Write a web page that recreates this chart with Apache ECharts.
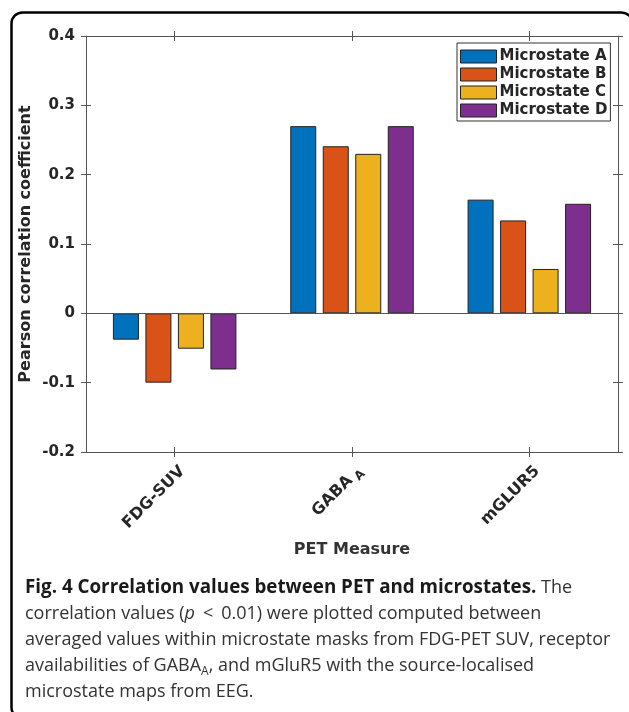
<!DOCTYPE html>
<html>
<head>
<meta charset="utf-8">
<script src="https://cdn.jsdelivr.net/npm/echarts@6/dist/echarts.min.js"></script>
<style>
html,body{margin:0;padding:0;background:#fff;}
#chart{width:629px;height:712px;}
</style>
</head>
<body>
<div id="chart"></div>
<script>
// ---- data ----
const categories = ['FDG-SUV', 'GABA_A', 'mGLUR5'];
const seriesNames = ['Microstate A', 'Microstate B', 'Microstate C', 'Microstate D'];
const microstateA = [-0.038, 0.270, 0.164];
const microstateB = [-0.100, 0.241, 0.134];
const microstateC = [-0.051, 0.230, 0.064];
const microstateD = [-0.081, 0.270, 0.158];
const yTicks = [-0.2, -0.1, 0, 0.1, 0.2, 0.3, 0.4];
const colors = ['#0072BD', '#D95319', '#EDB120', '#7E2F8E'];
const xAxisTitle = 'PET Measure';
const yAxisTitle = 'Pearson correlation coefficient';

const captionLines = [
  '{b|Fig. 4 Correlation values between PET and microstates.}{r| The}',
  '{r|correlation values (}{i|p}{lt|<}{r|0.01) were plotted computed between}',
  '{r|averaged values within microstate masks from FDG-PET SUV, receptor}',
  '{r|availabilities of GABA}{sub|A}{r|, and mGluR5 with the source-localised}',
  '{r|microstate maps from EEG.}'
];

const seriesValues = [microstateA, microstateB, microstateC, microstateD];
const axisFont = 'DejaVu Sans';
const textColor = '#262626';
const lineColor = '#555555';
const yMin = yTicks[0], yMax = yTicks[yTicks.length - 1], yStep = 0.1;

function fmtY(v) { const r = Math.round(v * 10) / 10; return r === 0 ? '0' : String(r); }
function fmtX(v) { return v === 'GABA_A' ? '{n|GABA}{s| A}' : '{n|' + v + '}'; }

const chart = echarts.init(document.getElementById('chart'), null, {renderer: 'canvas'});

const baseY = {type: 'value', min: yMin, max: yMax, interval: yStep, splitLine: {show: false}};
const baseX = {type: 'category', data: categories, boundaryGap: true, splitLine: {show: false}};

const captionFont = '"Open Sans", "Noto Sans", sans-serif';
const capSize = 18;
const capColor = '#333';
const captionGraphics = captionLines.map((t, i) => ({
  type: 'text',
  x: 25,
  y: 588 + i * 26,
  style: {
    text: t,
    verticalAlign: 'middle',
    fill: capColor,
    rich: {
      b: {fontFamily: captionFont, fontSize: 18.8, fontWeight: 'bold', fill: '#1a1a1a', lineHeight: 24, verticalAlign: 'middle'},
      r: {fontFamily: captionFont, fontSize: capSize, fill: capColor, lineHeight: 24, verticalAlign: 'middle'},
      i: {fontFamily: captionFont, fontSize: capSize, fontStyle: 'italic', fill: capColor, lineHeight: 24, verticalAlign: 'middle'},
      lt: {fontFamily: captionFont, fontSize: capSize, fill: capColor, lineHeight: 24, verticalAlign: 'middle', padding: [0, 8, 0, 8]},
      sub: {fontFamily: captionFont, fontSize: 12, fill: capColor, lineHeight: 24, verticalAlign: 'bottom'}
    }
  }
}));

const option = {
  backgroundColor: '#fff',
  animation: false,
  grid: {left: 86, right: 11, top: 36, bottom: 260, containLabel: false},
  legend: {
    orient: 'vertical',
    left: 457, top: 43,
    padding: [6, 3, 3, 3],
    itemGap: 3,
    itemWidth: 36, itemHeight: 13,
    icon: 'rect',
    backgroundColor: '#fff',
    borderColor: '#333',
    borderWidth: 1,
    borderRadius: 0,
    data: seriesNames,
    itemStyle: {borderColor: '#222', borderWidth: 1},
    textStyle: {fontFamily: axisFont, fontWeight: 'bold', fontSize: 15, color: textColor, lineHeight: 15, padding: [0, 0, 0, -2]}
  },
  xAxis: [
    Object.assign({}, baseX, {
      position: 'bottom',
      axisLine: {show: true, onZero: false, lineStyle: {color: lineColor, width: 1}},
      axisTick: {show: true, inside: false, alignWithLabel: true, length: 5, lineStyle: {color: lineColor}},
      axisLabel: {
        show: true, rotate: 45, margin: 9, interval: 0,
        verticalAlign: 'top',
        formatter: fmtX,
        rich: {
          n: {fontFamily: axisFont, fontWeight: 'bold', fontSize: 16, color: textColor, lineHeight: 22, verticalAlign: 'middle'},
          s: {fontFamily: axisFont, fontWeight: 'bold', fontSize: 12, color: textColor, lineHeight: 22, verticalAlign: 'bottom'}
        }
      },
      name: xAxisTitle, nameLocation: 'middle', nameGap: 90, nameMoveOverlap: false,
      nameTextStyle: {fontFamily: axisFont, fontWeight: 'bold', fontSize: 16, color: '#333'}
    }),
    Object.assign({}, baseX, {
      position: 'bottom',
      axisLine: {show: false, onZero: false},
      axisTick: {show: true, inside: true, alignWithLabel: true, length: 5, lineStyle: {color: lineColor}},
      axisLabel: {show: false}
    }),
    Object.assign({}, baseX, {
      position: 'top',
      axisLine: {show: true, onZero: false, lineStyle: {color: lineColor, width: 1}},
      axisTick: {show: true, inside: false, alignWithLabel: true, length: 5, lineStyle: {color: lineColor}},
      axisLabel: {show: false}
    }),
    Object.assign({}, baseX, {
      position: 'top',
      axisLine: {show: false, onZero: false},
      axisTick: {show: true, inside: true, alignWithLabel: true, length: 5, lineStyle: {color: lineColor}},
      axisLabel: {show: false}
    })
  ],
  yAxis: [
    Object.assign({}, baseY, {
      position: 'left',
      axisLine: {show: true, onZero: false, lineStyle: {color: lineColor, width: 1}},
      axisTick: {show: true, inside: false, length: 5, lineStyle: {color: lineColor}},
      axisLabel: {show: true, margin: 11, formatter: fmtY, fontFamily: axisFont, fontWeight: 'bold', fontSize: 15, color: textColor},
      name: yAxisTitle, nameLocation: 'middle', nameGap: 52, nameMoveOverlap: false,
      nameTextStyle: {fontFamily: axisFont, fontWeight: 'bold', fontSize: 16, color: textColor}
    }),
    Object.assign({}, baseY, {
      position: 'left',
      axisLine: {show: false, onZero: false},
      axisTick: {show: true, inside: true, length: 5, lineStyle: {color: lineColor}},
      axisLabel: {show: false}
    }),
    Object.assign({}, baseY, {
      position: 'right',
      axisLine: {show: true, onZero: false, lineStyle: {color: lineColor, width: 1}},
      axisTick: {show: true, inside: false, length: 5, lineStyle: {color: lineColor}},
      axisLabel: {show: false}
    }),
    Object.assign({}, baseY, {
      position: 'right',
      axisLine: {show: false, onZero: false},
      axisTick: {show: true, inside: true, length: 5, lineStyle: {color: lineColor}},
      axisLabel: {show: false}
    })
  ],
  series: seriesNames.map((name, i) => ({
    name: name,
    type: 'bar',
    xAxisIndex: 0,
    yAxisIndex: 0,
    data: seriesValues[i],
    barWidth: 26,
    barGap: '25%',
    itemStyle: {color: colors[i], borderColor: '#222', borderWidth: 1},
    markLine: i === 0 ? {
      silent: true, symbol: 'none', label: {show: false},
      lineStyle: {color: lineColor, type: 'solid', width: 1},
      data: [{yAxis: 0}]
    } : undefined,
    z: 2
  })),
  graphic: [
    {
      type: 'rect',
      shape: {x: 11.5, y: 12.5, width: 621, height: 706, r: 11},
      style: {fill: 'none', stroke: '#000', lineWidth: 2.5},
      z: 100
    }
  ].concat(captionGraphics)
};

chart.setOption(option);
</script>
</body>
</html>
